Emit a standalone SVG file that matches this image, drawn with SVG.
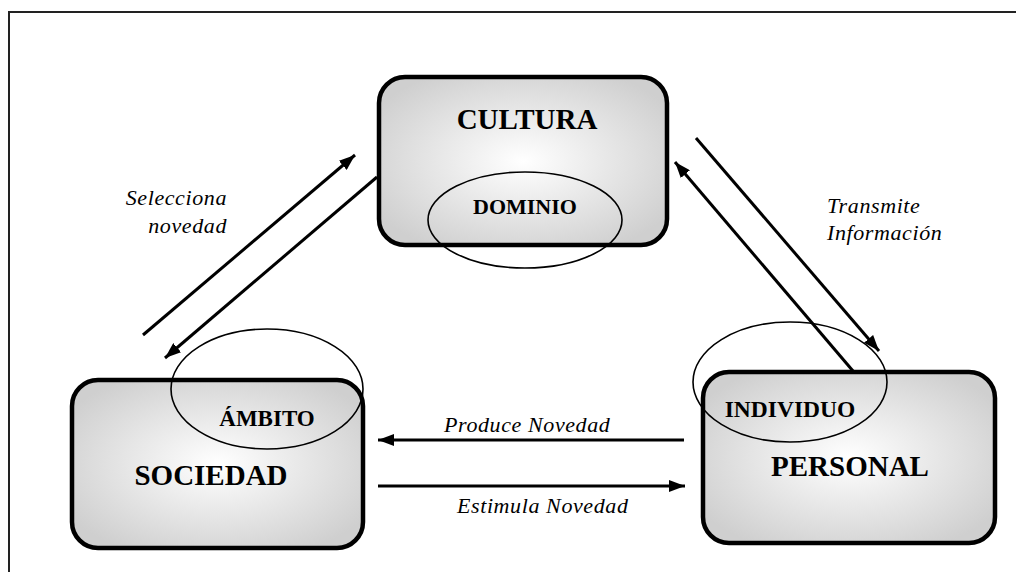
<svg xmlns="http://www.w3.org/2000/svg" width="1016" height="572" viewBox="0 0 1016 572">
  <defs>
    <radialGradient id="boxFill" cx="50%" cy="50%" r="60%">
      <stop offset="0" stop-color="#ffffff"/>
      <stop offset="1" stop-color="#cfcfcf"/>
    </radialGradient>
    <marker id="arrow" viewBox="0 0 16 12" markerWidth="16" markerHeight="12" refX="16" refY="6" orient="auto" markerUnits="userSpaceOnUse">
      <path d="M0,0 L16,6 L0,12 Z" fill="#000"/>
    </marker>
  </defs>
  <style>
    .box { fill: url(#boxFill); stroke: #000; stroke-width: 4.5; }
    .oval { fill: none; stroke: #000; stroke-width: 1.6; }
    .title { font-family: "Liberation Serif", "Times New Roman", serif; font-weight: bold; fill: #000; text-anchor: middle; }
    .lbl { font-family: "Liberation Serif", "Times New Roman", serif; font-style: italic; font-size: 22px; fill: #000; letter-spacing: 0.6px; }
    .conn { stroke: #000; stroke-width: 3; fill: none; marker-end: url(#arrow); }
    .plain { stroke: #000; stroke-width: 3; fill: none; }
  </style>
  <rect width="1016" height="572" fill="#fff"/>
  <path d="M9,572 L9,12 L1016,12" fill="none" stroke="#222" stroke-width="2"/>

  <g id="cultura">
    <rect class="box" x="379" y="77" width="288" height="168" rx="26"/>
    <text class="title" x="527" y="129" font-size="29">CULTURA</text>
  </g>
  <g id="dominio">
    <ellipse class="oval" cx="525" cy="220" rx="97" ry="48"/>
    <text class="title" x="525" y="214" font-size="22">DOMINIO</text>
  </g>

  <g id="sociedad">
    <rect class="box" x="72" y="380" width="291" height="168" rx="26"/>
    <text class="title" x="211" y="485" font-size="29">SOCIEDAD</text>
  </g>
  <g id="ambito">
    <ellipse class="oval" cx="267" cy="389" rx="96" ry="60"/>
    <text class="title" x="267" y="426" font-size="23">ÁMBITO</text>
  </g>

  <g id="personal">
    <rect class="box" x="703" y="372" width="292" height="171" rx="26"/>
    <text class="title" x="850" y="476" font-size="29">PERSONAL</text>
  </g>
  <g id="individuo">
    <ellipse class="oval" cx="790" cy="382" rx="97" ry="60"/>
    <text class="title" x="790" y="417" font-size="23.5">INDIVIDUO</text>
  </g>

  <g id="connectors">
    <line class="conn" x1="143" y1="335" x2="355" y2="155"/>
    <line class="conn" x1="377" y1="177" x2="165" y2="358"/>
    <line class="conn" x1="696" y1="138" x2="879" y2="351"/>
    <line class="conn" x1="853" y1="371" x2="675" y2="162"/>
    <line class="conn" x1="684" y1="440" x2="378" y2="440"/>
    <line class="conn" x1="378" y1="486" x2="685" y2="486"/>
  </g>

  <g id="labels">
    <text class="lbl" x="227" y="205" text-anchor="end">Selecciona</text>
    <text class="lbl" x="227" y="233" text-anchor="end">novedad</text>
    <text class="lbl" x="827" y="213">Transmite</text>
    <text class="lbl" x="827" y="240">Información</text>
    <text class="lbl" x="444" y="432">Produce Novedad</text>
    <text class="lbl" x="457" y="513">Estimula Novedad</text>
  </g>
</svg>
